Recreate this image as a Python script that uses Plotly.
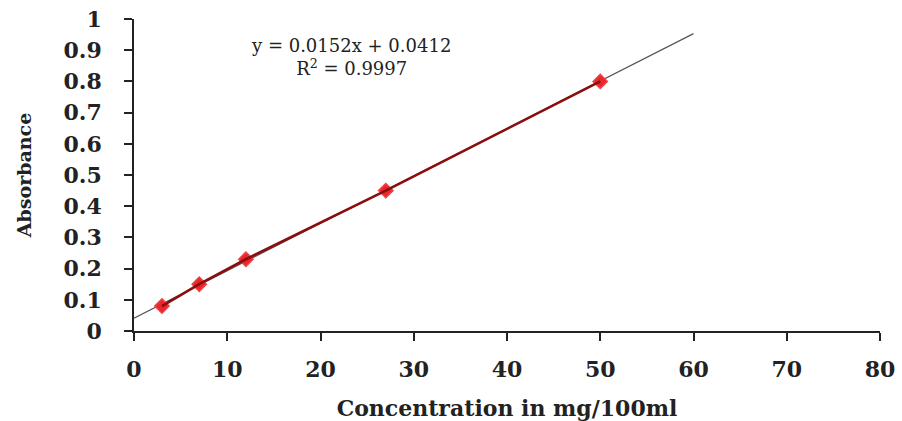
import plotly.graph_objects as go

# Calibration standards
concentration = [3, 7, 12, 27, 50]
absorbance = [0.08, 0.15, 0.23, 0.45, 0.80]

# Linear trendline reported on the chart
slope = 0.0152
intercept = 0.0412
r_squared = 0.9997
trend_x = [0, 60]
trend_y = [slope * x + intercept for x in trend_x]

x_ticks = [0, 10, 20, 30, 40, 50, 60, 70, 80]
y_ticks = [0, 0.1, 0.2, 0.3, 0.4, 0.5, 0.6, 0.7, 0.8, 0.9, 1]

serif = "DejaVu Serif"
ink = "#222222"

fig = go.Figure()

# Fitted trendline
fig.add_trace(go.Scatter(
    x=trend_x, y=trend_y, mode="lines",
    line=dict(color="#555555", width=1.2),
    showlegend=False, hoverinfo="skip",
))

# Standard points
fig.add_trace(go.Scatter(
    x=concentration, y=absorbance, mode="markers",
    marker=dict(symbol="diamond", size=11, color="#e8262b",
                line=dict(color="#ee4045", width=1.5)),
    showlegend=False,
))

# Connecting line drawn over the markers
fig.add_trace(go.Scatter(
    x=concentration, y=absorbance, mode="lines",
    line=dict(color="#8b0d0d", width=2.6),
    showlegend=False, hoverinfo="skip",
))

fig.add_annotation(
    x=0.291, y=0.877, xref="paper", yref="paper",
    xanchor="center", yanchor="middle",
    text=f"y = {slope}x + {intercept}<br>R<sup>2</sup> = {r_squared}",
    showarrow=False, align="center",
    font=dict(family=serif, size=18, color=ink),
)

axis_common = dict(
    showgrid=False, zeroline=False, showline=True, automargin=False,
    linecolor=ink, linewidth=1.6,
    ticks="outside", ticklen=8, tickwidth=1.6, tickcolor=ink,
    tickfont=dict(family=serif, size=22, color=ink, weight="bold"),
)

fig.update_xaxes(
    range=[0, 80], tickvals=x_ticks, ticktext=[str(v) for v in x_ticks],
    ticklabelstandoff=10,
    title=dict(text="<b>Concentration in mg/100ml</b>", standoff=20,
               font=dict(family=serif, size=22, color=ink)),
    **axis_common,
)
fig.update_yaxes(
    range=[0, 1], tickvals=y_ticks, ticktext=[f"{v:g}" for v in y_ticks],
    ticklabelstandoff=18,
    title=dict(text="<b>Absorbance</b>", standoff=27,
               font=dict(family=serif, size=19, color=ink)),
    **axis_common,
)

fig.update_layout(
    width=902, height=421,
    margin=dict(l=134, r=22, t=19, b=90),
    paper_bgcolor="white", plot_bgcolor="white",
)

fig.write_html("out.html")
